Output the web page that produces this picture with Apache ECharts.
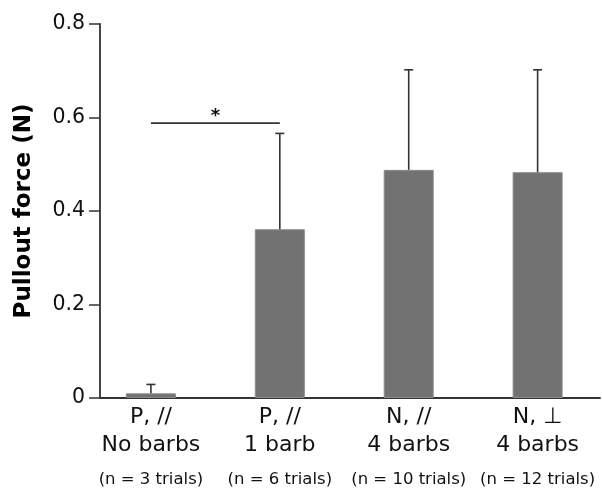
<!DOCTYPE html>
<html>
<head>
<meta charset="utf-8">
<script src="https://cdn.jsdelivr.net/npm/echarts@6/dist/echarts.min.js"></script>
<style>html,body{margin:0;padding:0;background:#fff;}#c{width:602px;height:490px;}</style>
</head>
<body>
<div id="c"></div>
<script>
// ---- data ----
const groupIndex = [0, 1, 2, 3];
const lineOne = ['P, //', 'P, //', 'N, //', 'N, \u22A5'];
const lineTwo = ['No barbs', '1 barb', '4 barbs', '4 barbs'];
const trialsText = ['(n = 3 trials)', '(n = 6 trials)', '(n = 10 trials)', '(n = 12 trials)'];
const meanForce = [0.01, 0.361, 0.488, 0.483];
const errForce = [0.019, 0.205, 0.214, 0.219];
const yTickValues = [0, 0.2, 0.4, 0.6, 0.8];
const sigFrom = 0, sigTo = 1, sigLevel = 0.588, sigMark = '*';

const FONT = 'DejaVu Sans';
const chart = echarts.init(document.getElementById('c'), null, {renderer: 'canvas'});

const barData = groupIndex.map((g, i) => [g, meanForce[i]]);
const errData = groupIndex.map((g, i) => [g, meanForce[i], errForce[i]]);

chart.setOption({
  animation: false,
  backgroundColor: '#fff',
  grid: {left: 100, right: 2, top: 24, bottom: 92, containLabel: false},
  xAxis: {
    type: 'value', min: -0.395, max: 3.484,
    axisLine: {show: true, onZero: false, lineStyle: {color: '#333', width: 1.8}},
    axisTick: {show: false}, axisLabel: {show: false}, splitLine: {show: false}
  },
  yAxis: {
    type: 'value', min: yTickValues[0], max: yTickValues[yTickValues.length - 1], interval: 0.2,
    name: 'Pullout force (N)', nameLocation: 'middle', nameGap: 64, nameRotate: 90,
    nameTextStyle: {fontFamily: FONT, fontWeight: 'bold', fontSize: 23, color: '#000'},
    axisLine: {show: true, onZero: false, lineStyle: {color: '#333', width: 1.8}},
    axisTick: {show: true, inside: false, length: 11, lineStyle: {color: '#333', width: 1.5}},
    axisLabel: {fontFamily: FONT, fontSize: 20.5, color: '#111', margin: 15,
      formatter: v => (v === 0 ? '0' : v.toFixed(1))},
    splitLine: {show: false}
  },
  series: [
    {
      type: 'bar', data: barData, barWidth: 50,
      itemStyle: {color: '#727272', borderColor: '#8c8c8c', borderWidth: 1},
      label: {
        show: true, position: 'bottom', distance: 5, color: '#111', fontFamily: FONT,
        formatter: p => '{a|' + lineOne[p.dataIndex] + '}\n{a|' + lineTwo[p.dataIndex] + '}\n{b|' + trialsText[p.dataIndex] + '}',
        rich: {
          a: {fontFamily: FONT, fontSize: 22, lineHeight: 28, color: '#111'},
          b: {fontFamily: FONT, fontSize: 16.5, lineHeight: 42, color: '#111'}
        }
      },
      z: 2
    },
    {
      type: 'custom', data: errData, z: 3,
      encode: {x: 0, y: 1},
      renderItem: (params, api) => {
        const x = api.value(0), m = api.value(1), e = api.value(2);
        const p0 = api.coord([x, m]), p1 = api.coord([x, m + e]);
        const st = {stroke: '#333', lineWidth: 1.6};
        return {type: 'group', children: [
          {type: 'line', shape: {x1: p0[0], y1: p0[1], x2: p1[0], y2: p1[1]}, style: st},
          {type: 'line', shape: {x1: p1[0] - 4.5, y1: p1[1], x2: p1[0] + 4.5, y2: p1[1]}, style: st}
        ]};
      }
    },
    {
      type: 'custom', data: [[sigFrom, sigTo, sigLevel]], z: 3,
      encode: {x: 0, y: 2},
      renderItem: (params, api) => {
        const a = api.coord([api.value(0), api.value(2)]);
        const b = api.coord([api.value(1), api.value(2)]);
        return {type: 'group', children: [
          {type: 'line', shape: {x1: a[0], y1: a[1], x2: b[0], y2: b[1]}, style: {stroke: '#333', lineWidth: 1.6}},
          {type: 'text', style: {text: sigMark, x: (a[0] + b[0]) / 2, y: a[1] + 2, align: 'center', verticalAlign: 'bottom',
            fontFamily: FONT, fontSize: 18, fontWeight: 'bold', fill: '#111'}}
        ]};
      }
    }
  ]
});
</script>
</body>
</html>
